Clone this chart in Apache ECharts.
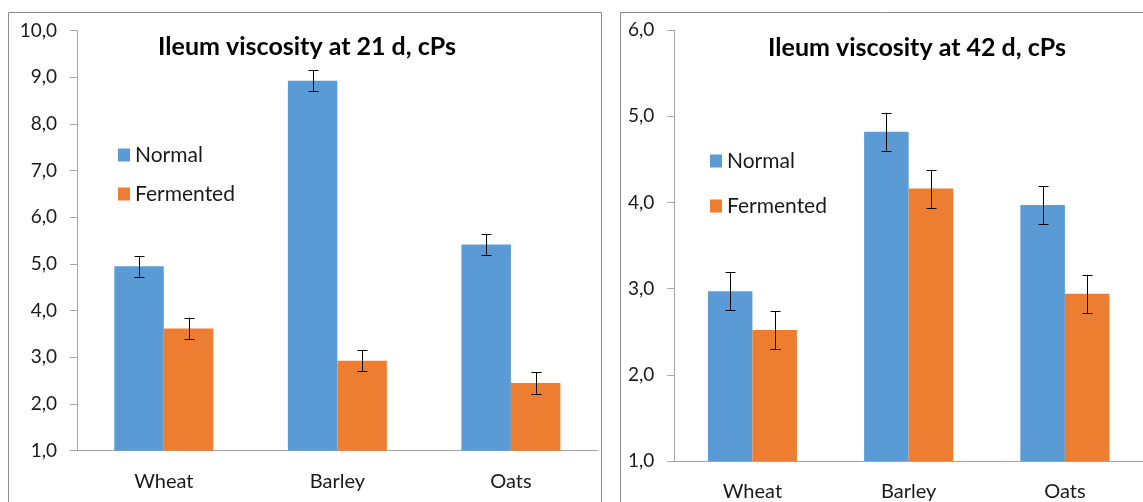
<!DOCTYPE html>
<html>
<head>
<meta charset="utf-8">
<script src="https://cdn.jsdelivr.net/npm/echarts@6/dist/echarts.min.js"></script>
<style>
  html, body { margin: 0; padding: 0; background: #fff; }
  #chart { width: 1143px; height: 502px; }
</style>
</head>
<body>
<div id="chart"></div>
<script>
// data
const grains = ['Wheat', 'Barley', 'Oats'];
const normal21 = [4.95, 8.93, 5.42];
const normal21Err = [0.22, 0.22, 0.22];
const fermented21 = [3.62, 2.93, 2.45];
const fermented21Err = [0.23, 0.22, 0.23];
const normal42 = [2.97, 4.82, 3.97];
const normal42Err = [0.22, 0.22, 0.22];
const fermented42 = [2.52, 4.16, 2.94];
const fermented42Err = [0.22, 0.22, 0.22];

const BLUE = '#5b9bd5';
const ORANGE = '#ed7d31';
const FONT = 'Lato';
const BAR_W = 0.285;

const chart = echarts.init(document.getElementById('chart'), null, { renderer: 'canvas' });

function comma(v) {
  return v.toFixed(1).replace('.', ',');
}

// error bars drawn on top of the bars, shifted left/right half a bar
function errorSeries(idx, values, errs, side) {
  return {
    name: 'err' + idx + side,
    type: 'custom',
    xAxisIndex: idx,
    yAxisIndex: idx,
    z: 10,
    silent: true,
    data: values.map((v, i) => [i, v - errs[i], v + errs[i]]),
    renderItem: function (params, api) {
      const band = api.size([1, 0])[0];
      const dx = side * band * BAR_W / 2;
      const lo = api.coord([api.value(0), api.value(1)]);
      const hi = api.coord([api.value(0), api.value(2)]);
      const x = Math.round(lo[0] + dx) + 0.5;
      const style = { stroke: '#000', lineWidth: 1 };
      return {
        type: 'group',
        children: [
          { type: 'line', shape: { x1: x, y1: hi[1], x2: x, y2: lo[1] }, style: style },
          { type: 'line', shape: { x1: x - 5, y1: Math.round(hi[1]) + 0.5, x2: x + 5, y2: Math.round(hi[1]) + 0.5 }, style: style },
          { type: 'line', shape: { x1: x - 5, y1: Math.round(lo[1]) + 0.5, x2: x + 5, y2: Math.round(lo[1]) + 0.5 }, style: style },
        ],
      };
    },
  };
}

function xAxis(idx) {
  return {
    type: 'category',
    gridIndex: idx,
    data: grains,
    axisLine: { lineStyle: { color: '#a6a6a6', width: 1 } },
    axisTick: { length: 7, lineStyle: { color: '#a6a6a6' } },
    axisLabel: { margin: 21, color: '#1a1a1a', fontFamily: FONT, fontSize: 20 },
  };
}

function yAxis(idx, max) {
  return {
    type: 'value',
    gridIndex: idx,
    min: 1,
    max: max,
    interval: 1,
    splitLine: { show: false },
    axisLine: { show: true, lineStyle: { color: '#a6a6a6', width: 1 } },
    axisTick: { show: true, length: 7, lineStyle: { color: '#a6a6a6' } },
    axisLabel: { margin: 20, color: '#1a1a1a', fontFamily: FONT, fontSize: 19, formatter: comma },
  };
}

function barSeries(idx, name, color, values) {
  return {
    name: name,
    type: 'bar',
    xAxisIndex: idx,
    yAxisIndex: idx,
    barWidth: (BAR_W * 100) + '%',
    barGap: '0%',
    itemStyle: { color: color },
    data: values,
  };
}

const option = {
  animation: false,
  backgroundColor: '#fff',
  title: [
    {
      text: 'Ileum viscosity at 21 d, cPs',
      left: 307, top: 34, textAlign: 'center', padding: 0,
      textStyle: { fontFamily: FONT, fontWeight: 'bold', fontSize: 25, color: '#000' },
    },
    {
      text: 'Ileum viscosity at 42 d, cPs',
      left: 917, top: 35, textAlign: 'center', padding: 0,
      textStyle: { fontFamily: FONT, fontWeight: 'bold', fontSize: 25, color: '#000' },
    },
  ],
  legend: [
    {
      orient: 'vertical', left: 118, top: 144, padding: 0,
      itemWidth: 12, itemHeight: 13, itemGap: 17, icon: 'rect',
      data: ['Normal', 'Fermented'],
      textStyle: { fontFamily: FONT, fontSize: 21, color: '#1a1a1a', lineHeight: 22 },
    },
    {
      orient: 'vertical', left: 710, top: 150, padding: 0,
      itemWidth: 12, itemHeight: 13, itemGap: 23, icon: 'rect',
      data: ['Normal', 'Fermented'],
      textStyle: { fontFamily: FONT, fontSize: 21, color: '#1a1a1a', lineHeight: 22 },
    },
  ],
  grid: [
    { left: 77, top: 30.7, width: 520.7, height: 420 },
    { left: 674.3, top: 30, width: 478.8, height: 432 },
  ],
  xAxis: [xAxis(0), xAxis(1)],
  yAxis: [yAxis(0, 10), yAxis(1, 6)],
  series: [
    barSeries(0, 'Normal', BLUE, normal21),
    barSeries(0, 'Fermented', ORANGE, fermented21),
    barSeries(1, 'Normal', BLUE, normal42),
    barSeries(1, 'Fermented', ORANGE, fermented42),
    errorSeries(0, normal21, normal21Err, -1),
    errorSeries(0, fermented21, fermented21Err, 1),
    errorSeries(1, normal42, normal42Err, -1),
    errorSeries(1, fermented42, fermented42Err, 1),
  ],
  graphic: [
    // panel frames
    { type: 'rect', silent: true, z: -1, shape: { x: 8.5, y: 12.5, width: 593, height: 520 },
      style: { fill: null, stroke: '#8c8c8c', lineWidth: 1 } },
    { type: 'rect', silent: true, z: -1, shape: { x: 620.5, y: 12.5, width: 560, height: 520 },
      style: { fill: null, stroke: '#8c8c8c', lineWidth: 1 } },
  ],
};

chart.setOption(option);
</script>
</body>
</html>
